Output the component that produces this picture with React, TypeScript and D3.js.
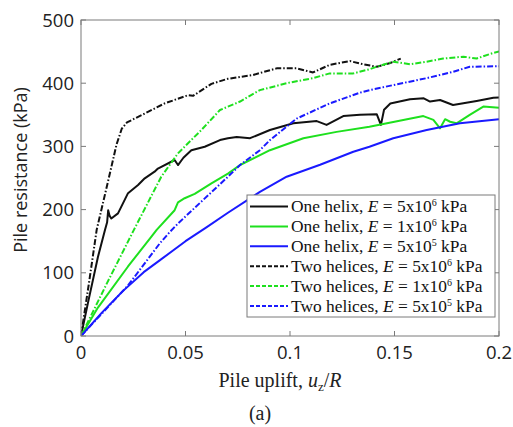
import React from "react";
import * as d3 from "d3";

// ---- data ----
const oneHelix5e6X = [0, 0.0033, 0.0081, 0.0115, 0.0125, 0.0130, 0.0137, 0.0145, 0.0177, 0.0225, 0.0273, 0.0305, 0.0352, 0.0368, 0.0448, 0.0464, 0.0490, 0.0528, 0.0592, 0.0665, 0.0703, 0.0745, 0.0809, 0.0904, 0.1016, 0.1128, 0.1175, 0.1255, 0.1335, 0.1415, 0.1435, 0.1450, 0.1480, 0.1574, 0.1640, 0.1670, 0.1718, 0.1780, 0.1893, 0.1973, 0.2];
const oneHelix5e6Y = [0, 52, 125, 168, 180, 199, 190, 186, 194, 226, 239, 249.5, 260, 265, 278.5, 270.5, 282, 294, 299.5, 310, 313, 315, 313, 326, 336.5, 340, 334, 348, 350, 351, 334, 358, 368, 374.5, 376, 371, 373.5, 365.5, 372, 377, 377.5];

const oneHelix1e6X = [0, 0.0081, 0.0225, 0.0336, 0.0362, 0.0448, 0.0464, 0.0496, 0.0544, 0.0624, 0.0703, 0.0761, 0.0904, 0.1064, 0.1223, 0.138, 0.1638, 0.1686, 0.1718, 0.1742, 0.1766, 0.1797, 0.186, 0.1925, 0.2];
const oneHelix1e6Y = [0, 45, 110, 157, 168, 199, 211.5, 218, 225, 241.6, 257, 270.6, 294, 313, 323, 331, 348, 342, 328.6, 343, 339, 336.5, 350, 363, 361];

const oneHelix5e5X = [0, 0.01, 0.02, 0.03, 0.0378, 0.05, 0.06, 0.0703, 0.0856, 0.0984, 0.1144, 0.1303, 0.138, 0.1494, 0.1654, 0.1813, 0.2];
const oneHelix5e5Y = [0, 37, 71, 101, 120, 150, 172, 195, 228, 252, 271, 291.6, 299.5, 313, 326, 336.5, 343];

const twoHelices5e6X = [0, 0.004, 0.0075, 0.0131, 0.017, 0.0195, 0.022, 0.0305, 0.040, 0.0512, 0.0536, 0.0624, 0.0703, 0.0823, 0.0936, 0.103, 0.111, 0.119, 0.1287, 0.1335, 0.1415, 0.148, 0.153];
const twoHelices5e6Y = [0, 88, 168, 247, 303, 328, 338, 352, 368, 381, 380, 399, 407, 413, 423.5, 423.5, 417, 429, 435, 431, 426, 432, 439];

const twoHelices1e6X = [0, 0.0125, 0.025, 0.0384, 0.0464, 0.0576, 0.0665, 0.0761, 0.0856, 0.0984, 0.111, 0.119, 0.1303, 0.138, 0.1415, 0.1494, 0.1574, 0.1654, 0.1733, 0.183, 0.1893, 0.1973, 0.2];
const twoHelices1e6Y = [0, 84, 166, 252, 289, 326, 357.6, 371, 389, 400, 408, 415.5, 415.5, 422, 426, 434, 430, 434, 439, 442, 439, 448, 450];

const twoHelices5e5X = [0, 0.0225, 0.0378, 0.0426, 0.0464, 0.0703, 0.0761, 0.0856, 0.0904, 0.1032, 0.119, 0.1335, 0.138, 0.1494, 0.1654, 0.178, 0.186, 0.2];
const twoHelices5e5Y = [0, 80, 147, 165, 178, 252, 270.6, 294, 310, 344, 368, 385, 389, 397, 408, 418, 426, 427];

const xTicks = [0, 0.05, 0.1, 0.15, 0.2];
const xTickLabels = ["0", "0.05", "0.1", "0.15", "0.2"];
const yTicks = [0, 100, 200, 300, 400, 500];

const seriesNames = ["One helix", "One helix", "One helix", "Two helices", "Two helices", "Two helices"];
const seriesMantissa = ["5", "1", "5", "5", "1", "5"];
const seriesExponent = ["6", "6", "5", "6", "6", "5"];

const BLACK = "#111111";
const GREEN = "#1ee01e";
const BLUE = "#1a1aff";
const DASH = "6,2,1.5,2";

const series = [
  { x: oneHelix5e6X, y: oneHelix5e6Y, color: BLACK, dash: null },
  { x: oneHelix1e6X, y: oneHelix1e6Y, color: GREEN, dash: null },
  { x: oneHelix5e5X, y: oneHelix5e5Y, color: BLUE, dash: null },
  { x: twoHelices5e6X, y: twoHelices5e6Y, color: BLACK, dash: DASH },
  { x: twoHelices1e6X, y: twoHelices1e6Y, color: GREEN, dash: DASH },
  { x: twoHelices5e5X, y: twoHelices5e5Y, color: BLUE, dash: DASH },
];

const W = 513;
const H = 427;
const L = 81, R = 499, T = 20, B = 336;

export default function App() {
  const x = d3.scaleLinear().domain([0, 0.2]).range([L, R]);
  const y = d3.scaleLinear().domain([0, 500]).range([B, T]);
  const line = d3.line<[number, number]>().x((d) => x(d[0])).y((d) => y(d[1]));
  const frame = "#7a7a7a";
  const tickFont = "'Open Sans', 'Noto Sans', sans-serif";
  const serif = "'Liberation Serif', 'DejaVu Serif', serif";

  const legX = 247, legY = 195, legW = 248, legH = 122;
  const rowH = 19.9;

  return (
    <svg width={W} height={H} style={{ position: "absolute", left: 0, top: 0 }}>
      <rect x={0} y={0} width={W} height={H} fill="#fff" />
      <defs>
        <clipPath id="plotclip">
          <rect x={L} y={T} width={R - L} height={B - T} />
        </clipPath>
      </defs>
      {/* curves */}
      <g clipPath="url(#plotclip)">
        {series.map((s, i) => (
          <path
            key={i}
            d={line(s.x.map((v, j) => [v, s.y[j]] as [number, number])) || ""}
            fill="none"
            stroke={s.color}
            strokeWidth={2}
            strokeDasharray={s.dash || undefined}
            strokeLinejoin="round"
          />
        ))}
      </g>
      {/* frame */}
      <rect x={L} y={T} width={R - L} height={B - T} fill="none" stroke={frame} strokeWidth={1} />
      {/* x ticks */}
      {xTicks.map((t, i) => (
        <g key={"xt" + i}>
          <line x1={x(t)} x2={x(t)} y1={B} y2={B - 5} stroke={frame} />
          <line x1={x(t)} x2={x(t)} y1={T} y2={T + 5} stroke={frame} />
          <text x={x(t)} y={359} textAnchor="middle" fontFamily={tickFont} fontSize={18.5} fill="#222">
            {xTickLabels[i]}
          </text>
        </g>
      ))}
      {/* y ticks */}
      {yTicks.map((t, i) => (
        <g key={"yt" + i}>
          <line x1={L} x2={L + 5} y1={y(t)} y2={y(t)} stroke={frame} />
          <line x1={R} x2={R - 5} y1={y(t)} y2={y(t)} stroke={frame} />
          <text x={74} y={y(t) + 6.5} textAnchor="end" fontFamily={tickFont} fontSize={18.5} fill="#222">
            {t}
          </text>
        </g>
      ))}
      {/* axis labels */}
      <text
        transform={`translate(27,170) rotate(-90)`}
        textAnchor="middle"
        fontFamily={tickFont}
        fontSize={18}
        fill="#222"
      >
        Pile resistance (kPa)
      </text>
      <text x={280} y={387} textAnchor="middle" fontFamily={serif} fontSize={20} fill="#222">
        Pile uplift, <tspan fontStyle="italic">u</tspan>
        <tspan fontSize={13} dy={4}>z</tspan>
        <tspan dy={-4}>/</tspan>
        <tspan fontStyle="italic">R</tspan>
      </text>
      <text x={260} y={420} textAnchor="middle" fontFamily={serif} fontSize={20} fill="#222">
        (a)
      </text>
      {/* legend */}
      <rect x={legX} y={legY} width={legW} height={legH} fill="#fff" stroke={frame} strokeWidth={1} />
      {series.map((s, i) => {
        const cy = legY + 11.5 + i * rowH;
        return (
          <g key={"lg" + i}>
            <line x1={250} x2={288} y1={cy} y2={cy} stroke={s.color} strokeWidth={2} strokeDasharray={s.dash ? "4,2" : undefined} />
            <text x={291} y={cy + 5.5} fontFamily={serif} fontSize={17.4} fill="#111">
              {seriesNames[i]}, <tspan fontStyle="italic">E</tspan> = {seriesMantissa[i]}x10
              <tspan fontSize={10} dy={-6}>{seriesExponent[i]}</tspan>
              <tspan dy={6}> kPa</tspan>
            </text>
          </g>
        );
      })}
    </svg>
  );
}
